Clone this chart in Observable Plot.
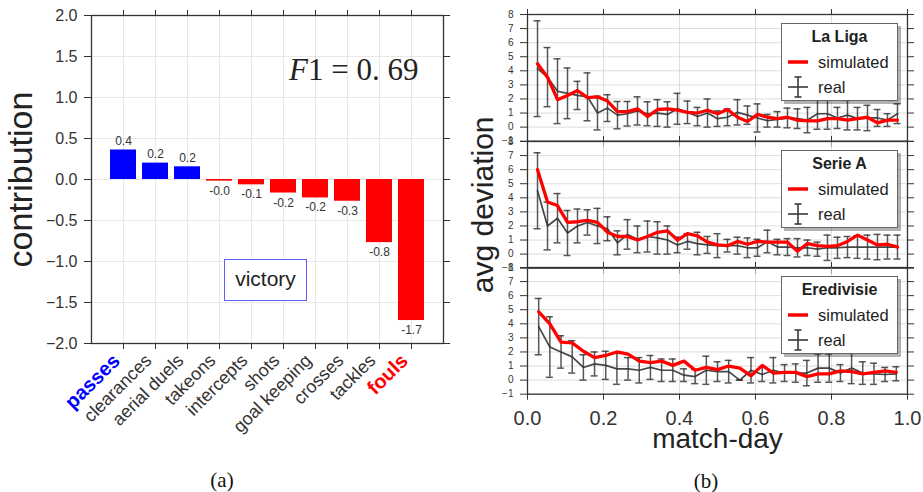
<!DOCTYPE html>
<html><head><meta charset="utf-8">
<script src="https://cdn.jsdelivr.net/npm/d3@7"></script>
<script src="https://cdn.jsdelivr.net/npm/@observablehq/plot@0.6"></script>
<style>
body{margin:0;background:#fff;font-family:"Liberation Sans",Arial,sans-serif;}
#root{position:relative;width:923px;height:492px;overflow:hidden;background:#fff;}
#root svg{position:absolute;overflow:visible;}
.legend{position:absolute;width:117px;height:78px;border:1px solid #666;background:#fff;box-shadow:3px 3px 0 rgba(0,0,0,0.3);box-sizing:border-box;color:#222;}
.legend .lt{position:absolute;left:0;width:100%;top:3px;text-align:center;font-weight:bold;font-size:16px;line-height:20px;}
.legend .li{position:absolute;left:36px;font-size:16.5px;line-height:20px;}
.legend svg{position:absolute;left:0;top:0;}
.victory{position:absolute;left:224px;top:259px;width:83px;height:42px;border:1.5px solid #5f5fff;box-sizing:border-box;font-size:21px;line-height:38px;text-align:center;color:#222;background:#fff;}
.cap{position:absolute;width:60px;text-align:center;font-family:"Liberation Serif",serif;font-size:21px;color:#111;}
</style></head><body><div id="root"></div><script>
// ---- Left chart data ----
const categories = ["passes","clearances","aerial duels","takeons","intercepts","shots","goal keeping","crosses","tackles","fouls"];
const contributions = [0.36, 0.2, 0.155, -0.02, -0.065, -0.165, -0.225, -0.265, -0.77, -1.72];
const leftYTicks = [-2, -1.5, -1, -0.5, 0, 0.5, 1, 1.5, 2];
const f1Label = "F1 = 0.69";
const boxLabel = "victory";

// ---- Right chart data ----
const rightYTicks = [-1, 0, 1, 2, 3, 4, 5, 6, 7, 8];
const rightXTicks = [0, 0.2, 0.4, 0.6, 0.8, 1.0];
const leagues = ["La Liga", "Serie A", "Eredivisie"];
const rounds = [38, 38, 34];
const laLigaReal = [4.15,3.55,2.55,2.4,2.25,2.15,1.0,1.35,0.85,0.95,1.15,0.95,1.0,0.9,1.3,1.05,0.75,1.0,0.6,0.7,1.05,0.85,0.65,0.45,0.55,0.65,0.6,0.5,0.95,0.95,0.65,0.85,0.6,0.65,0.65,0.5,0.95];
const laLigaErr  = [3.4,2.1,2.3,1.8,1.0,1.7,1.2,0.95,0.97,0.87,1.0,0.85,0.95,0.9,1.1,0.8,0.65,1.0,0.55,0.6,0.9,0.65,1.0,0.45,0.55,0.7,0.7,0.9,1.1,1.1,0.75,1.05,0.8,0.9,0.6,0.45,0.7];
const laLigaSim  = [4.5,3.55,1.95,2.25,2.6,2.1,2.15,1.85,1.1,1.1,1.3,0.75,1.25,1.3,1.2,1.05,1.0,1.2,0.95,1.25,0.7,0.4,0.9,0.7,0.6,0.7,0.5,0.45,0.45,0.6,0.6,0.5,0.6,0.7,0.3,0.5,0.5];
const serieAReal = [4.5,2.0,2.55,1.5,2.0,2.25,2.0,1.8,0.8,1.4,1.05,1.25,1.15,1.0,0.65,0.9,0.75,0.65,0.6,0.6,0.6,0.45,0.45,0.9,0.5,0.5,0.45,0.45,0.35,0.45,0.45,0.5,0.5,0.5,0.5,0.5,0.5];
const serieAErr  = [2.7,1.7,1.75,1.6,1.2,0.9,1.25,0.85,0.85,1.05,0.95,1.1,1.15,1.0,0.55,0.55,0.8,0.6,0.85,0.45,0.6,0.7,0.6,0.8,0.55,0.6,0.65,0.55,0.5,0.9,0.75,0.75,0.8,0.85,0.9,0.85,0.85];
const serieASim  = [6.0,3.7,3.45,2.25,2.3,2.4,2.25,1.55,1.25,1.25,1.0,1.25,1.55,1.65,1.0,1.45,1.3,0.85,0.65,0.6,0.9,0.7,0.9,0.85,0.85,0.85,0.2,0.75,0.6,0.55,0.6,0.9,1.35,1.0,0.65,0.7,0.5];
const erediReal = [3.8,2.35,2.0,1.65,0.9,1.15,1.05,0.8,0.8,0.7,0.9,0.7,0.7,0.35,0.25,0.7,0.6,0.6,0.0,0.7,0.4,0.7,0.5,0.5,0.5,0.85,0.85,0.5,0.85,0.5,0.45,0.4,0.45];
const erediErr  = [2.0,2.15,1.15,1.15,0.9,0.85,1.0,1.1,0.8,0.9,0.85,0.8,0.8,0.45,0.5,1.0,0.7,0.8,0.0,0.9,0.5,0.9,0.6,0.65,0.9,1.0,1.0,0.6,1.1,0.8,0.75,0.5,0.5];
const erediSim  = [4.85,4.0,2.7,2.65,2.05,1.6,1.75,2.0,1.85,1.35,1.25,1.35,1.05,1.35,0.7,0.9,0.75,1.0,0.85,0.3,1.05,0.5,0.55,0.55,0.25,0.45,0.45,0.65,0.6,0.45,0.55,0.65,0.55];

const root = document.getElementById("root");
const FONT = "Liberation Sans, Arial, sans-serif";
const baseStyle = {background: "transparent", fontFamily: FONT, color: "#333", overflow: "visible"};

// ---------------- Left chart ----------------
const barData = categories.map((c, i) => ({cat: c, val: contributions[i]}));
const left = Plot.plot({
  width: 460, height: 452,
  marginLeft: 91, marginRight: 17, marginTop: 15, marginBottom: 109,
  style: baseStyle,
  x: {type: "band", domain: categories, paddingInner: 0.2, paddingOuter: 0.6, align: 0.5},
  y: {domain: [-2, 2]},
  marks: [
    Plot.gridY(leftYTicks, {stroke: "#d8d8d8", strokeOpacity: 0.6}),
    Plot.gridX({stroke: "#d8d8d8", strokeOpacity: 0.6}),
    Plot.barY(barData, {x: "cat", y: "val", fill: d => d.val >= 0 ? "#0000ff" : "#ff0000"}),
    Plot.text(barData.filter(d => d.val >= 0), {x: "cat", y: "val", text: d => d.val.toFixed(1), lineAnchor: "bottom", dy: -5, fontSize: 12, fill: "#333"}),
    Plot.text(barData.filter(d => d.val < 0), {x: "cat", y: "val", text: d => d.val.toFixed(1), lineAnchor: "top", dy: 5, fontSize: 12, fill: "#333"}),
    Plot.axisY(leftYTicks, {anchor: "left", tickSize: 7, tickPadding: 7, tickFormat: d3.format(".1f"), fontSize: 16, label: null, stroke: "#333"}),
    Plot.axisY(leftYTicks, {anchor: "right", tickSize: 6, tickFormat: () => "", label: null, stroke: "#333"}),
    Plot.axisX({anchor: "top", tickSize: 6, tickFormat: () => "", label: null, stroke: "#333"}),
    Plot.axisX({anchor: "bottom", tickSize: 6, tickFormat: () => "", label: null, stroke: "#333"}),
    Plot.axisX({anchor: "bottom", tickSize: 0, tickPadding: 14, dx: -7, tickRotate: -45, fontSize: 18, label: null, fill: "#333"}),
    Plot.frame({stroke: "#333", strokeWidth: 1.3}),
    Plot.text([f1Label], {frameAnchor: "top-right", textAnchor: "end", dx: -25, dy: 42, fontSize: 31, fontFamily: "Liberation Serif, serif", fill: "#222"}),
    Plot.text(["contribution"], {frameAnchor: "left", textAnchor: "middle", rotate: -90, dx: -70, fontSize: 34, fill: "#222"})
  ]
});
left.style.left = "0px"; left.style.top = "0px";
root.appendChild(left);
// style the highlighted category labels
d3.select(left).selectAll("text").each(function() {
  const t = this.textContent;
  if (t === "passes") { d3.select(this).attr("fill", "#0000ff").style("font-weight", "bold").style("font-size", "20px"); }
  if (t === "fouls") { d3.select(this).attr("fill", "#ff0000").style("font-weight", "bold").style("font-size", "20px"); }
  if (t === f1Label) {
    const s = d3.select(this); s.text("");
    s.append("tspan").attr("font-style", "italic").text("F");
    s.append("tspan").text("1 = 0. 69");
  }
});

const vb = document.createElement("div"); vb.className = "victory"; vb.textContent = boxLabel; root.appendChild(vb);

// ---------------- Right panels ----------------
const panels = [
  {name: leagues[0], n: rounds[0], real: laLigaReal, err: laLigaErr, sim: laLigaSim},
  {name: leagues[1], n: rounds[1], real: serieAReal, err: serieAErr, sim: serieASim},
  {name: leagues[2], n: rounds[2], real: erediReal, err: erediErr, sim: erediSim}
];
const frameTops = [14, 140.7, 267.3];
const frameH = 126.7;
panels.forEach((p, k) => {
  const bottom = k === 2;
  const data = p.real.map((r, i) => ({x: (i + 1) / p.n, real: r, lo: r - p.err[i], hi: r + p.err[i], sim: p.sim[i]}));
  const mb = bottom ? 70 : 10;
  const marks = [
    Plot.gridX(rightXTicks, {stroke: "#d0d0d0", strokeOpacity: 0.7}),
    Plot.gridY(rightYTicks, {stroke: "#d0d0d0", strokeOpacity: 0.7}),
    Plot.ruleX(data, {x: "x", y1: "lo", y2: "hi", stroke: "#3a3a3a", strokeOpacity: 0.85, strokeWidth: 1.5}),
    Plot.ruleY(data, {y: "lo", x1: "x", x2: "x", insetLeft: -3.5, insetRight: -3.5, stroke: "#3a3a3a", strokeOpacity: 0.85, strokeWidth: 1.5}),
    Plot.ruleY(data, {y: "hi", x1: "x", x2: "x", insetLeft: -3.5, insetRight: -3.5, stroke: "#3a3a3a", strokeOpacity: 0.85, strokeWidth: 1.5}),
    Plot.line(data, {x: "x", y: "real", stroke: "#333", strokeOpacity: 0.9, strokeWidth: 1.7}),
    Plot.line(data, {x: "x", y: "sim", stroke: "#ff0000", strokeWidth: 3.3}),
    Plot.axisY(rightYTicks, {anchor: "left", tickSize: 7, tickPadding: 7, tickFormat: d3.format("d"), fontSize: 10, label: null, stroke: "#333"}),
    Plot.axisY(rightYTicks, {anchor: "right", tickSize: 6, tickFormat: () => "", label: null, stroke: "#333"}),
    Plot.axisX(rightXTicks, {anchor: "top", tickSize: 6, tickFormat: () => "", label: null, stroke: "#333"}),
    Plot.axisX(rightXTicks, {anchor: "bottom", tickSize: 6, tickPadding: 11, tickFormat: bottom ? d3.format(".1f") : () => "", fontSize: 20, label: null, stroke: "#333"}),
    Plot.frame({stroke: "#333", strokeWidth: 1.3})
  ];
  if (bottom) marks.push(Plot.text(["match-day"], {frameAnchor: "bottom", textAnchor: "middle", dy: 54, fontSize: 28, fill: "#222"}));
  if (k === 1) marks.push(Plot.text(["avg deviation"], {frameAnchor: "left", textAnchor: "middle", rotate: -90, dx: -44, fontSize: 30, fill: "#222"}));
  const chart = Plot.plot({
    width: 453, height: 14 + frameH + mb,
    marginLeft: 57, marginRight: 16, marginTop: 14, marginBottom: mb,
    style: baseStyle,
    x: {domain: [0, 1]}, y: {domain: [-1, 8]},
    marks
  });
  chart.style.left = "470px"; chart.style.top = (frameTops[k] - 14) + "px";
  root.appendChild(chart);
});
// legends (drawn over the panels)
panels.forEach((p, k) => {
  const lg = document.createElement("div");
  lg.className = "legend";
  lg.style.left = "781px"; lg.style.top = (frameTops[k] + 9) + "px";
  lg.innerHTML = `<div class="lt">${p.name}</div>
   <svg width="40" height="78"><line x1="6" x2="26" y1="38" y2="38" stroke="#ff0000" stroke-width="3.5"/>
   <g stroke="#3a3a3a" stroke-width="1.6"><line x1="6" x2="26" y1="63" y2="63"/><line x1="16" x2="16" y1="53" y2="73"/><line x1="12.5" x2="19.5" y1="53" y2="53"/><line x1="12.5" x2="19.5" y1="73" y2="73"/></g></svg>
   <div class="li" style="top:28px">simulated</div><div class="li" style="top:53px">real</div>`;
  root.appendChild(lg);
});

// captions
const ca = document.createElement("div"); ca.className = "cap"; ca.textContent = "(a)"; ca.style.left = "192px"; ca.style.top = "468px"; root.appendChild(ca);
const cb = document.createElement("div"); cb.className = "cap"; cb.textContent = "(b)"; cb.style.left = "676px"; cb.style.top = "469px"; root.appendChild(cb);
</script></body></html>
